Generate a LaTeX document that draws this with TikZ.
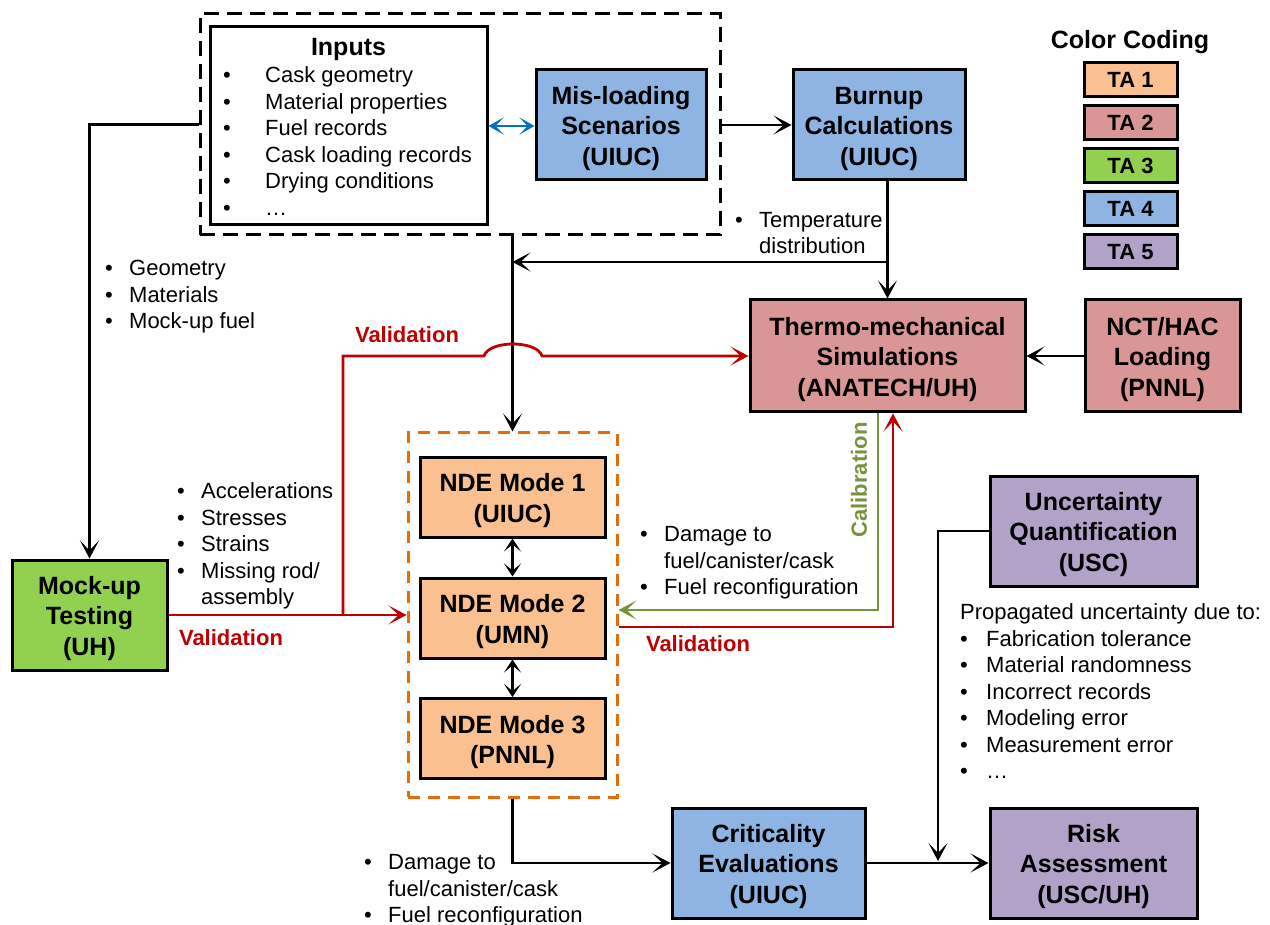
\documentclass[tikz,border=0pt]{standalone}
\usepackage{fontspec}
\setmainfont{Liberation Sans}
\usetikzlibrary{arrows.meta}
\definecolor{taone}{HTML}{FAC090}
\definecolor{tatwo}{HTML}{DA9694}
\definecolor{tathree}{HTML}{92D050}
\definecolor{tafour}{HTML}{8DB4E2}
\definecolor{tafive}{HTML}{B3A2C7}
\definecolor{valred}{HTML}{C00000}
\definecolor{calgreen}{HTML}{77933C}
\definecolor{linkblue}{HTML}{0070C0}
\definecolor{ndeorange}{HTML}{E46C0A}
\newcommand{\bul}[1][24pt]{\makebox[#1][l]{\textbullet}}
\newcommand{\nobul}[1][24pt]{\makebox[#1]{}}
\newcommand{\boxtop}{\rule{0pt}{25pt}}
\begin{document}
\begin{tikzpicture}[x=1pt,y=-1pt,
  box/.style={draw,line width=3pt,align=center,inner sep=0pt,font=\bfseries\fontsize{25}{30.5}\selectfont},
  tabox/.style={draw,line width=3pt,inner sep=0pt,minimum width=93pt,minimum height=34pt,font=\bfseries\fontsize{22}{26}\selectfont},
  txt/.style={align=left,inner sep=0pt,anchor=west,font=\fontsize{22}{26.5}\selectfont},
  lab/.style={inner sep=0pt,font=\bfseries\fontsize{22}{26}\selectfont},
  arr/.style={line width=2.8pt,-{Stealth[length=18pt,width=19pt,inset=10pt]}},
  redarr/.style={line width=2.8pt,draw=valred,-{Stealth[length=18pt,width=19pt,inset=10pt,valred]}},
  dbl/.style={line width=2.4pt,{Stealth[length=13pt,width=17pt,inset=7pt]}-{Stealth[length=13pt,width=17pt,inset=7pt]}},
]
\useasboundingbox (0,0) rectangle (1270,925);

% inputs group
\node[draw,line width=3pt,dash pattern=on 15pt off 8pt,minimum width=520pt,minimum height=221pt,inner sep=0pt] (inputgroup) at (460,124.5) {};
\node[draw,line width=3pt,minimum width=277pt,minimum height=198pt,inner sep=0pt] (inputs) at (348.5,126) {};
\node[inner sep=0pt,font=\bfseries\fontsize{25}{30}\selectfont] (inputstitle) at (348.5,49) {Inputs};
\node[txt] (inputslist) at (223,141) {\bul[42pt]Cask geometry\\\bul[42pt]Material properties\\\bul[42pt]Fuel records\\\bul[42pt]Cask loading records\\\bul[42pt]Drying conditions\\\bul[42pt]…};
\node[box,fill=tafour,minimum width=170pt,minimum height=110pt] (misload) at (621,125) {\boxtop Mis-loading\\Scenarios\\(UIUC)};
\node[box,fill=tafour,minimum width=172pt,minimum height=110pt] (burnup) at (879,125) {\boxtop Burnup\\Calculations\\(UIUC)};

% simulations
\node[box,fill=tatwo,minimum width=275pt,minimum height=112pt] (thermo) at (887.5,356) {\boxtop Thermo-mechanical\\Simulations\\(ANATECH/UH)};
\node[box,fill=tatwo,minimum width=155pt,minimum height=112pt] (nct) at (1162.5,356) {\boxtop NCT/HAC\\Loading\\(PNNL)};
\node[box,fill=tathree,minimum width=155pt,minimum height=110pt] (mockup) at (89.5,615) {\boxtop Mock-up\\Testing\\(UH)};

% NDE group
\node[draw=ndeorange,line width=3pt,dash pattern=on 12pt off 8pt,minimum width=209pt,minimum height=364pt,inner sep=0pt] (ndegroup) at (512.5,615) {};
\node[box,fill=taone,minimum width=185pt,minimum height=80pt] (ndeone) at (512.5,497) {\boxtop NDE Mode 1\\(UIUC)};
\node[box,fill=taone,minimum width=185pt,minimum height=80pt] (ndetwo) at (512.5,618) {\boxtop NDE Mode 2\\(UMN)};
\node[box,fill=taone,minimum width=185pt,minimum height=80pt] (ndethree) at (512.5,738.5) {\boxtop NDE Mode 3\\(PNNL)};

% uncertainty and risk
\node[box,fill=tafive,minimum width=207pt,minimum height=110pt] (uq) at (1093.5,531) {\boxtop Uncertainty\\Quantification\\(USC)};
\node[box,fill=tafour,minimum width=193pt,minimum height=110pt] (crit) at (768.5,863) {\boxtop Criticality\\Evaluations\\(UIUC)};
\node[box,fill=tafive,minimum width=207pt,minimum height=110pt] (risk) at (1093.5,863) {\boxtop Risk\\Assessment\\(USC/UH)};

% legend
\node[inner sep=0pt,font=\bfseries\fontsize{25}{30}\selectfont] (legendtitle) at (1130,42) {Color Coding};
\foreach \i/\c/\y in {1/taone/80,2/tatwo/122.5,3/tathree/166,4/tafour/209,5/tafive/252}
  \node[tabox,fill=\c] (ta\i) at (1130.5,\y) {TA \i};

% text blocks
\node[txt] (geomlist) at (105,297) {\bul Geometry\\\bul Materials\\\bul Mock-up fuel};
\node[txt] (measlist) at (177,546) {\bul Accelerations\\\bul Stresses\\\bul Strains\\\bul Missing rod/\\\nobul assembly};
\node[txt] (templist) at (735,233) {\bul Temperature\\\nobul distribution};
\node[txt] (damagelist) at (640,563) {\bul Damage to\\\nobul fuel/canister/cask\\\bul Fuel reconfiguration};
\node[txt] (damagelisttwo) at (364,891) {\bul Damage to\\\nobul fuel/canister/cask\\\bul Fuel reconfiguration};
\node[txt] (uqlist) at (960,691.5) {Propagated uncertainty due to:\\\bul[26pt]Fabrication tolerance\\\bul[26pt]Material randomness\\\bul[26pt]Incorrect records\\\bul[26pt]Modeling error\\\bul[26pt]Measurement error\\\bul[26pt]…};

% labels
\node[lab,text=valred] (valtop) at (407,335) {Validation};
\node[lab,text=valred] (valleft) at (231,638) {Validation};
\node[lab,text=valred] (valright) at (698,644) {Validation};
\node[lab,text=calgreen,rotate=90] (callab) at (859,480) {Calibration};

% connectors
\coordinate (tsplit) at (887.5,262);
\coordinate (vsplit) at (343,615);
\coordinate (uqjoin) at (938,861);
\draw[arr] (inputgroup.west) -| (mockup.north);
\draw[arr] (inputgroup.east |- burnup.west) -- (burnup.west);
\draw[line width=2.6pt,linkblue,{Stealth[length=15pt,width=17pt,inset=8pt]}-{Stealth[length=15pt,width=17pt,inset=8pt]}] (inputs.east) -- (inputs.east -| misload.west);
\draw[arr] (inputgroup.south -| ndegroup.north) -- (ndegroup.north);
\draw[arr] (burnup.south -| thermo.north) -- (thermo.north);
\draw[arr] (tsplit) -- (tsplit -| ndegroup.north);
\draw[arr] (nct.west) -- (thermo.east);
\draw[dbl] (ndeone) -- (ndetwo);
\draw[dbl] (ndetwo) -- (ndethree);
\draw[redarr] (mockup.east) -- (mockup.east -| ndegroup.west);
\draw[redarr] (vsplit) -- (vsplit |- thermo.west) -- (484,356) .. controls (489,340) and (537,340) .. (542,356) -- (thermo.west);
\draw[line width=2.8pt,calgreen,-{Stealth[length=18pt,width=19pt,inset=10pt]}] ([xshift=-9.5pt]thermo.south) |- ([yshift=5pt]ndegroup.east);
\draw[redarr] ([yshift=-12pt]ndegroup.east) -| ([xshift=5.5pt]thermo.south);
\draw[arr] (ndegroup.south) |- (crit.west);
\draw[arr] (crit.east) -- (risk.west);
\draw[arr] (uq.west) -| (uqjoin);
\end{tikzpicture}
\end{document}
